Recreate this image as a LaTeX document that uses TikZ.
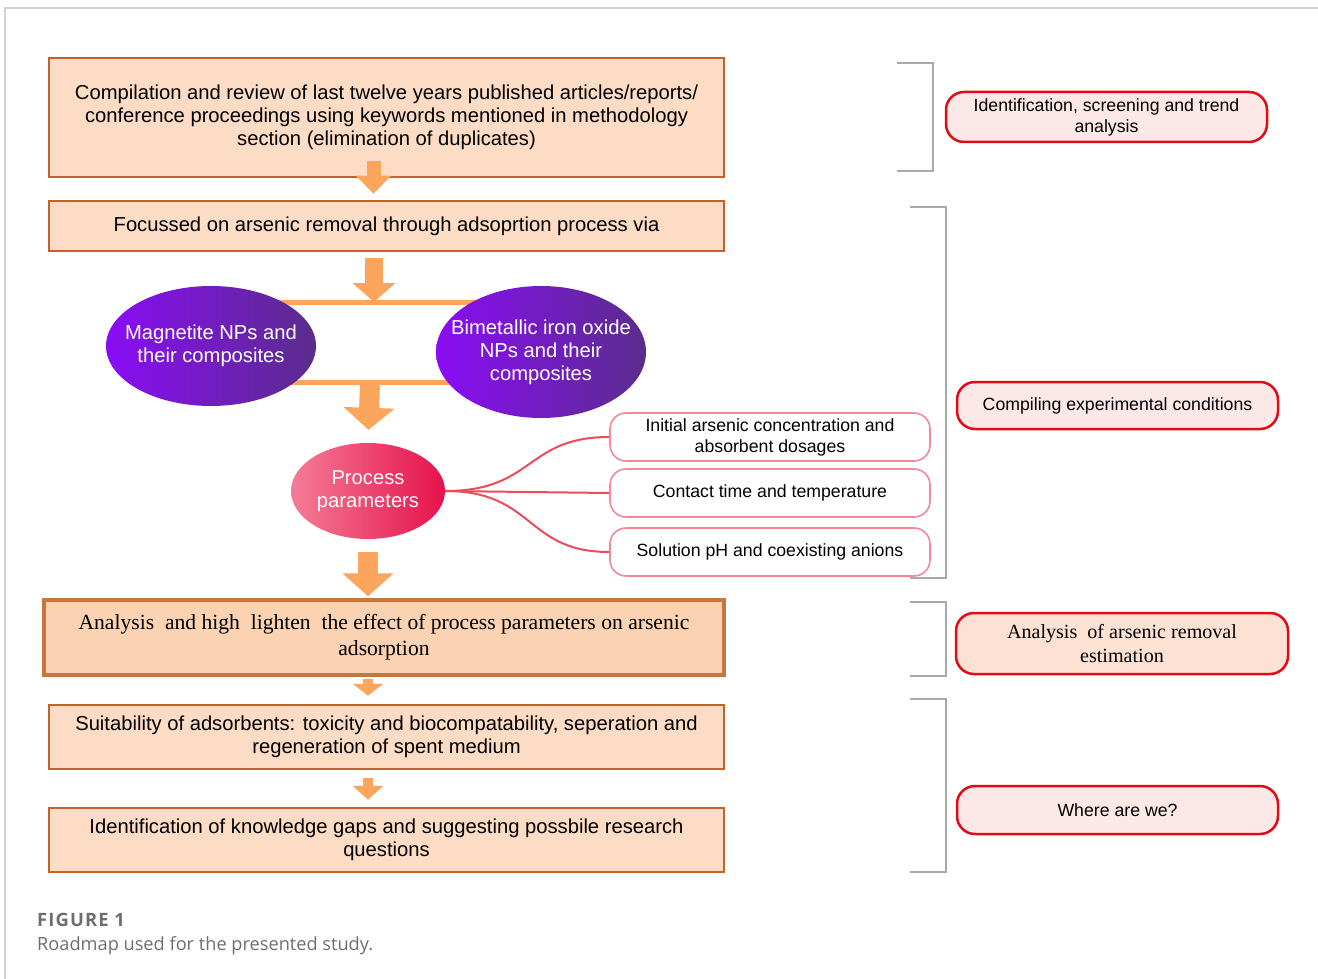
\documentclass[tikz,border=0pt]{standalone}
\usepackage{fontspec}
\setmainfont{Liberation Sans}
\newfontfamily\serifb{Liberation Serif}
\newfontfamily\capfont{Open Sans}
\newfontfamily\capfontsp[LetterSpace=6]{Open Sans}
\usetikzlibrary{arrows.meta,shapes.geometric,backgrounds}
\definecolor{boxfill}{HTML}{FCDCC5}
\definecolor{boxline}{HTML}{C3622A}
\definecolor{box4fill}{HTML}{FBD2B2}
\definecolor{box4line}{HTML}{C6773E}
\definecolor{arrowcol}{HTML}{FBA65C}
\definecolor{labline}{HTML}{E30A17}
\definecolor{labfill}{HTML}{FDE8E8}
\definecolor{lab3fill}{HTML}{FDE2D4}
\definecolor{subline}{HTML}{F48896}
\definecolor{curvecol}{HTML}{F04A5A}
\definecolor{brackcol}{HTML}{A9A9A9}
\definecolor{framecol}{HTML}{D2D2D2}
\definecolor{capcol}{HTML}{6E6E6E}
\definecolor{violetL}{HTML}{8A0CF5}
\definecolor{violetR}{HTML}{5A2D8C}
\definecolor{pinkL}{HTML}{F47C96}
\definecolor{pinkR}{HTML}{E6124B}
\tikzset{
  mainbox/.style={draw=boxline, fill=boxfill, line width=2.5pt, inner sep=0pt,
    align=center, font=\fontsize{20.2}{23}\selectfont},
  ovalnode/.style={ellipse, inner sep=0pt},
  ovaltext/.style={text=white, align=center, font=\fontsize{20.2}{23}\selectfont},
  subbox/.style={draw=subline, fill=white, line width=1.6pt, rounded corners=16pt,
    minimum width=320pt, minimum height=48pt, inner sep=0pt, align=center,
    font=\fontsize{17.7}{21}\selectfont},
  labbox/.style={draw=labline, fill=labfill, line width=2.5pt, rounded corners=18pt,
    inner sep=0pt, align=center, font=\fontsize{17.7}{21}\selectfont},
  fatarrow/.style={draw=arrowcol, line width=#1},
  bar/.style={draw=arrowcol, line width=5pt},
  bracket/.style={draw=brackcol, line width=2pt},
  curve/.style={draw=curvecol, line width=2pt}
}
\begin{document}
\begin{tikzpicture}[x=1pt,y=-1pt]
\useasboundingbox (0,0) rectangle (1318,979);
\draw[framecol, line width=1.5pt] (1318,8) -- (5,8) -- (5,979);

% main column
\node[mainbox, minimum width=675pt, minimum height=119pt] (b1) at (386.5,117.5)
  {Compilation and review of last twelve years published articles/reports/\\
   conference proceedings using keywords mentioned in methodology\\
   section (elimination of duplicates)};
\node[mainbox, minimum width=675pt, minimum height=50pt] (b2) at (386.5,226)
  {Focussed on arsenic removal through adsoprtion process via};

\node[ovalnode, left color=violetL, right color=violetR, minimum width=210pt, minimum height=120pt,
  label={[ovaltext]center:{Magnetite NPs and\\their composites}}] (mag) at (211,346) {};
\node[ovalnode, left color=violetL, right color=violetR, minimum width=210pt, minimum height=132pt,
  label={[ovaltext]center:{Bimetallic iron oxide\\NPs and their\\composites}}] (bim) at (541,352) {};
\coordinate (tb) at (374,302);
\coordinate (bb) at (370,382);
\begin{pgfonlayer}{background}
  \draw[bar] (mag.center |- tb) -- (bim.center |- tb);
  \draw[bar] (mag.center |- bb) -- (bim.center |- bb);
\end{pgfonlayer}

\node[ovalnode, left color=pinkL, right color=pinkR, minimum width=154pt, minimum height=96pt,
  label={[ovaltext]center:{Process\\parameters}}] (proc) at (368,491) {};

\node[subbox] (s1) at (770,437) {Initial arsenic concentration and\\absorbent dosages};
\node[subbox] (s2) at (770,493) {Contact time and temperature};
\node[subbox] (s3) at (770,552) {Solution pH and coexisting anions};

\draw[curve] (proc.east) .. controls (535,491) and (525,437) .. (s1.west);
\draw[curve] (proc.east) -- (s2.west);
\draw[curve] (proc.east) .. controls (535,491) and (525,552) .. (s3.west);

\node[mainbox, draw=box4line, fill=box4fill, line width=3.5pt, minimum width=680pt, minimum height=75pt,
  font=\serifb\fontsize{21.6}{26}\selectfont] (b4) at (384,637.5)
  {Analysis\ \ and high\ \ lighten\ \ the\ effect of process parameters on arsenic\\adsorption};
\node[mainbox, minimum width=675pt, minimum height=64pt] (b5) at (386.5,737)
  {Suitability of adsorbents: toxicity and biocompatability, seperation and\\regeneration of spent medium};
\node[mainbox, minimum width=675pt, minimum height=64pt] (b6) at (386.5,840)
  {Identification of knowledge gaps and suggesting possbile research\\questions};

% arrows
\draw[fatarrow=14pt, -{Triangle[width=34pt,length=18pt]}, shorten >=6pt]
  ([xshift=-13pt,yshift=17pt]b1.south) -- ([xshift=-13pt]b2.north);
\draw[fatarrow=18pt, -{Triangle[width=42pt,length=19pt]}, shorten <=6pt]
  (b2.south -| tb) -- (tb);
\draw[fatarrow=20pt, -{Triangle[width=50pt,length=22pt]}, shorten <=3pt, shorten >=13pt]
  (bb) -- (proc.north);
\draw[fatarrow=20pt, -{Triangle[width=50pt,length=23pt]}, shorten <=13pt, shorten >=2pt]
  (proc.south) -- (proc.south |- b4.north);
\draw[fatarrow=10pt, -{Triangle[width=30pt,length=12pt]}, shorten <=2pt, shorten >=8pt]
  (b4.south -| proc) -- (b5.north -| proc);
\draw[fatarrow=10pt, -{Triangle[width=30pt,length=14pt]}, shorten <=8pt, shorten >=7pt]
  (b5.south -| proc) -- (b6.north -| proc);

% brackets
\draw[bracket] (897,63) -- (933,63) -- (933,171) -- (897,171);
\draw[bracket] (910,207) -- (946,207) -- (946,578) -- (910,578);
\draw[bracket] (910,602) -- (946,602) -- (946,676) -- (910,676);
\draw[bracket] (910,699) -- (946,699) -- (946,872) -- (910,872);

% right labels
\node[labbox, minimum width=321pt, minimum height=50pt] (l1) at (1106.5,117)
  {Identification, screening and trend\\analysis};
\node[labbox, minimum width=321pt, minimum height=47pt] (l2) at (1117.5,405.5)
  {Compiling experimental conditions};
\node[labbox, fill=lab3fill, minimum width=332pt, minimum height=61pt, font=\serifb\fontsize{20.1}{24}\selectfont] (l3) at (1122,643.5)
  {Analysis\ \ of arsenic removal\\estimation};
\node[labbox, minimum width=321pt, minimum height=48pt] (l4) at (1117.5,810)
  {Where are we?};

% caption
\node[anchor=base west, text=capcol, font=\capfontsp\bfseries\fontsize{18.4}{20}\selectfont, inner sep=0pt] (cap1) at (37,926) {FIGURE 1};
\node[anchor=base west, text=capcol, font=\capfont\fontsize{18.2}{20}\selectfont, inner sep=0pt] (cap2) at (37,950) {Roadmap used for the presented study.};
\end{tikzpicture}
\end{document}
